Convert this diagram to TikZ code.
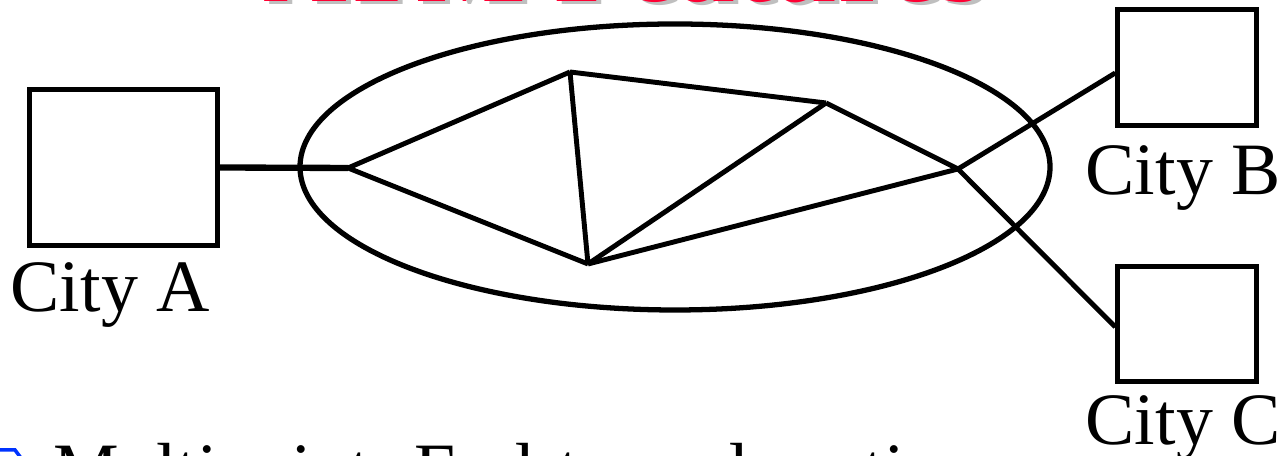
\documentclass[tikz,border=0pt]{standalone}
\usepackage{fontspec}
\setmainfont{Liberation Serif}
\usepackage{xcolor}
\usetikzlibrary{calc}

\definecolor{titlered}{RGB}{255,0,51}
\definecolor{bulletblue}{RGB}{0,51,255}

\begin{document}
\begin{tikzpicture}[
    x=0.01cm, y=-0.01cm,
    city/.style={draw, line width=1.4pt, inner sep=0pt},
    netlink/.style={line width=1.4pt},
    citylabel/.style={font=\fontsize{21}{25}\selectfont, inner sep=0pt, anchor=base west},
    headline/.style={font=\fontsize{33}{40}\selectfont\bfseries, inner sep=0pt, anchor=base west}
]

\useasboundingbox (0,0) rectangle (1282,456);
\clip (0,0) rectangle (1282,456);

% title, cut off at the top
\node[headline, text=gray!50] (shadow) at (268,5) {ATM Features};
\node[headline, text=titlered] (title) at (263,2) {ATM Features};

% cities
\node[city, minimum width=1.875cm, minimum height=1.555cm] (cityA) at (123.5,167.5) {};
\node[city, minimum width=1.385cm, minimum height=1.155cm] (cityB) at (1187,67.5) {};
\node[city, minimum width=1.385cm, minimum height=1.145cm] (cityC) at (1187,324) {};

\node[citylabel] (labA) at (10,312) {City A};
\node[citylabel] (labB) at (1085,195) {City B};
\node[citylabel] (labC) at (1085,445) {City C};

% network
\draw[line width=1.5pt] (675,167) ellipse [x radius=375, y radius=143];

\coordinate (n1) at (348,168);
\coordinate (n2) at (570,72);
\coordinate (n3) at (826,103);
\coordinate (n4) at (588,264);
\coordinate (n5) at (958,169);

\foreach \a/\b in {n1/n2, n1/n4, n2/n3, n2/n4, n3/n4, n3/n5, n4/n5}
    \draw[netlink] (\a) -- (\b);

\draw[line width=1.8pt] (cityA.east) -- (n1);
\draw[netlink] (n5) -- (cityB.west |- 0,73);
\draw[netlink] (n5) -- (cityC.west |- 0,327);

% bullet line, cut off at the bottom
\draw[bulletblue, line width=1pt] (-5,450) -- (15,450) -- (24,462);
\node[citylabel] (point) at (53,495) {Multipoint: End-to-end routing};

\end{tikzpicture}
\end{document}
